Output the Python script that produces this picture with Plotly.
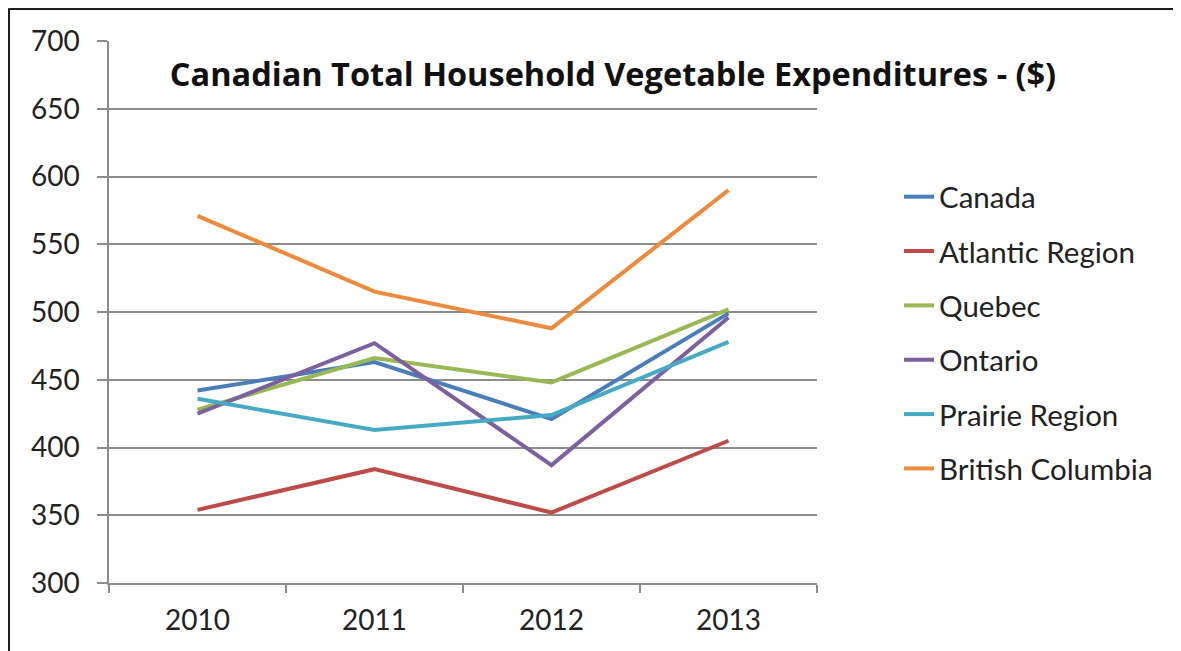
import plotly.graph_objects as go

years = ["2010", "2011", "2012", "2013"]
canada = [442, 463, 421, 499]
atlantic = [354, 384, 352, 405]
quebec = [428, 466, 448, 502]
ontario = [425, 477, 387, 496]
prairie = [436, 413, 424, 478]
british_columbia = [571, 515, 488, 590]

series_names = ["Canada", "Atlantic Region", "Quebec", "Ontario", "Prairie Region", "British Columbia"]
series_values = [canada, atlantic, quebec, ontario, prairie, british_columbia]
colors = ["#4A7EBB", "#BE4B48", "#98B954", "#7D60A0", "#46AAC5", "#EE8A3C"]

# page has an 8px body margin; figure coordinates are page - 8
W, H = 1173, 643
L, R, T, B = 101, 364, 33, 68
pw = W - L - R
ph = H - T - B

FONT = "Lato, 'Open Sans', sans-serif"
TFONT = "'Open Sans', Lato, sans-serif"
GRID = "#8C8C8C"

fig = go.Figure()
for name, vals, col in zip(series_names, series_values, colors):
    fig.add_trace(go.Scatter(x=years, y=vals, mode="lines", name=name,
                             legendgroup=name,
                             line=dict(color=col, width=4)))

# frame lines (top and left border of the chart container)
bx = (0.5 - L) / pw
by = (H - B - 0.5) / ph
fig.add_shape(type="line", xref="paper", yref="paper", x0=bx, x1=bx, y0=-0.3, y1=by,
              line=dict(color="#1E1E1E", width=3))
fig.add_shape(type="line", xref="paper", yref="paper", x0=bx, x1=1.7, y0=by, y1=by,
              line=dict(color="#1E1E1E", width=3))

fig.update_layout(
    width=W, height=H,
    margin=dict(l=L, r=R, t=T, b=B),
    paper_bgcolor="white", plot_bgcolor="white",
    font=dict(family=FONT, size=28, color="#222222"),
    title=dict(text="<b>Canadian Total Household Vegetable Expenditures - ($)</b>",
               x=605 / W, xanchor="center", xref="container",
               y=1 - 67 / H, yanchor="middle", yref="container",
               font=dict(family=TFONT, size=32.5, color="#111111")),
    showlegend=True,
    legend=dict(x=(891 - L) / pw, xanchor="left", y=(H - B - 163) / ph, yanchor="top",
                font=dict(family=FONT, size=29.5, color="#222222"),
                tracegroupgap=13, itemwidth=30, bgcolor="rgba(0,0,0,0)"),
    xaxis=dict(type="category", range=[-0.5, 3.5], showgrid=False,
               showline=True, linecolor=GRID, linewidth=1.5,
               ticks="outside", tickson="boundaries", ticklen=8, tickcolor=GRID, tickwidth=1.5,
               ticklabelstandoff=12,
               tickfont=dict(family=FONT, size=28, color="#222222")),
    yaxis=dict(range=[300, 700], dtick=50, tick0=300,
               showgrid=True, gridcolor=GRID, gridwidth=1.5,
               showline=True, linecolor=GRID, linewidth=1.5, zeroline=False,
               ticks="outside", ticklen=10, tickcolor=GRID, tickwidth=1.5,
               ticklabelstandoff=12,
               tickfont=dict(family=FONT, size=28, color="#222222")),
)

fig.write_html("out.html")
